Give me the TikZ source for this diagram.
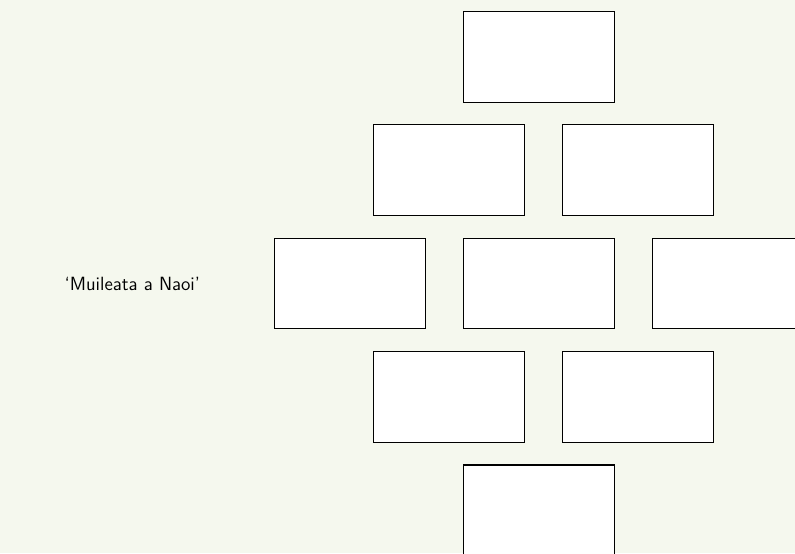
\documentclass[tikz,border=0pt]{standalone}
\usepackage{xcolor}
\usepackage{tikz}

\definecolor{paper}{RGB}{245,248,238}
\tikzset{cell/.style={draw, line width=0.8pt, fill=white, minimum width=4cm, minimum height=2.4cm, inner sep=0pt}}

\begin{document}
\begin{tikzpicture}
    \clip (0, 0) rectangle (21.03, -14.63);
    \fill[paper] (0, 0) rectangle (21.03, -14.63);

    \node[cell] at (14.25, -1.5) (c1) {};
    \node[cell] at (11.87, -4.5) (c2) {};
    \node[cell] at (16.87, -4.5) (c3) {};
    \node[cell] at (9.25, -7.5) (c4) {};
    \node[cell] at (14.25, -7.5) (c5) {};
    \node[cell] at (19.25, -7.5) (c6) {};
    \node[cell] at (11.87, -10.5) (c7) {};
    \node[cell] at (16.87, -10.5) (c8) {};
    \node[cell] at (14.25, -13.5) (c9) {};

    \node[anchor=east, inner sep=0pt] at (5.3, -7.5) (name) {\sffamily\Large `Muileata a Naoi'};
\end{tikzpicture}
\end{document}
